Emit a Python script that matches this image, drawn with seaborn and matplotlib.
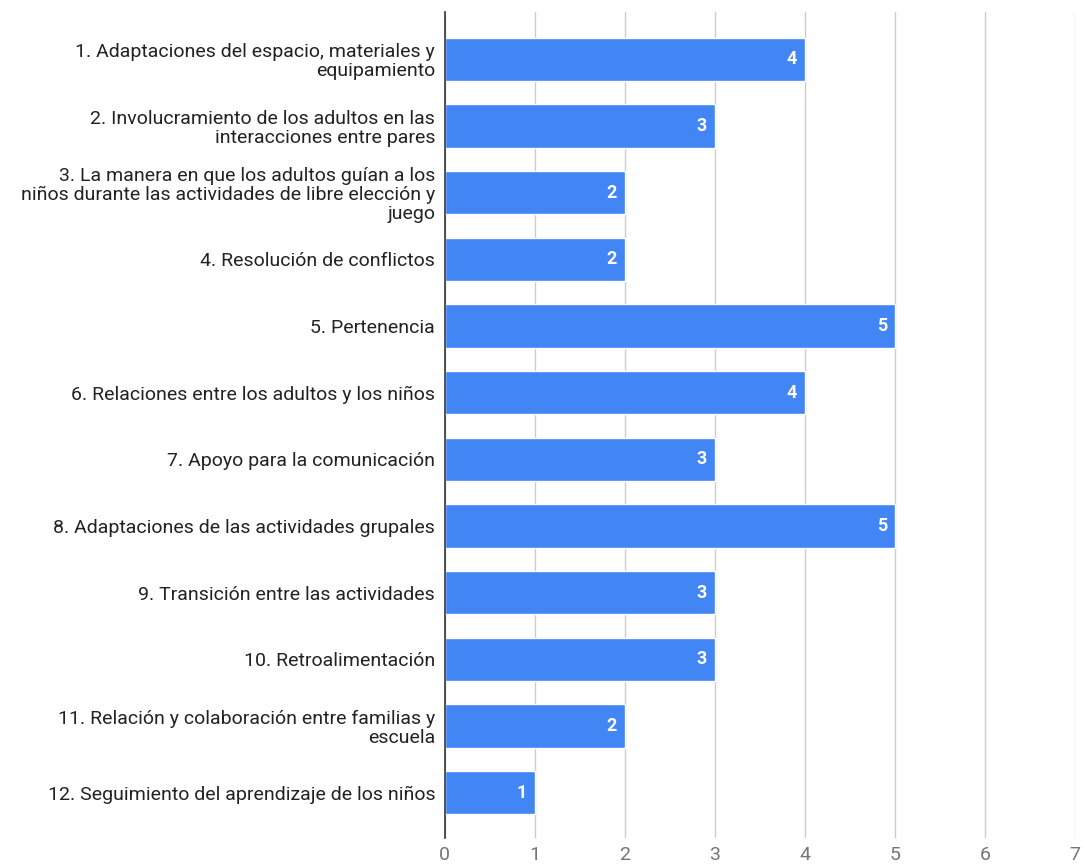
import matplotlib
matplotlib.use("Agg")
import matplotlib.pyplot as plt
import seaborn as sns
import pandas as pd

categories = [
    "1. Adaptaciones del espacio, materiales y\nequipamiento",
    "2. Involucramiento de los adultos en las\ninteracciones entre pares",
    "3. La manera en que los adultos guían a los\nniños durante las actividades de libre elección y\njuego",
    "4. Resolución de conflictos",
    "5. Pertenencia",
    "6. Relaciones entre los adultos y los niños",
    "7. Apoyo para la comunicación",
    "8. Adaptaciones de las actividades grupales",
    "9. Transición entre las actividades",
    "10. Retroalimentación",
    "11. Relación y colaboración entre familias y\nescuela",
    "12. Seguimiento del aprendizaje de los niños",
]
values = [4, 3, 2, 2, 5, 4, 3, 5, 3, 3, 2, 1]
x_ticks = [0, 1, 2, 3, 4, 5, 6, 7]

df = pd.DataFrame({"cat": categories, "val": values})

sns.set_theme(style="white")
plt.rcParams["font.family"] = ["Roboto", "DejaVu Sans"]

fig = plt.figure(figsize=(10.85, 8.66), dpi=100)
ax = fig.add_axes([0.41, 0.0323, 0.581, 0.954])

sns.barplot(data=df, x="val", y="cat", orient="h", color="#4285F4",
            saturation=1, width=0.65, ax=ax, zorder=3)

for i, v in enumerate(values):
    ax.text(v - 0.09, i, str(v), ha="right", va="center", color="white",
            fontsize=13, fontweight="bold", zorder=4)

ax.set_xlim(0, 7)
ax.set_ylim(11.68, -0.71)
ax.set_xticks(x_ticks)
ax.set_xticklabels([str(t) for t in x_ticks], color="#757575", fontsize=14)
ax.tick_params(axis="x", length=0, pad=6)
ax.tick_params(axis="y", length=0, pad=7, labelsize=14, labelcolor="#222222")
for lbl in ax.get_yticklabels():
    lbl.set_linespacing(1.05)
ax.set_xlabel("")
ax.set_ylabel("")
ax.xaxis.grid(True, color="#cccccc", linewidth=1, zorder=0)
ax.yaxis.grid(False)
for s in ["top", "right", "bottom"]:
    ax.spines[s].set_visible(False)
ax.spines["left"].set_color("#333333")
ax.spines["left"].set_linewidth(1.2)
ax.spines["left"].set_zorder(5)

fig.savefig("out.png", dpi=100)
